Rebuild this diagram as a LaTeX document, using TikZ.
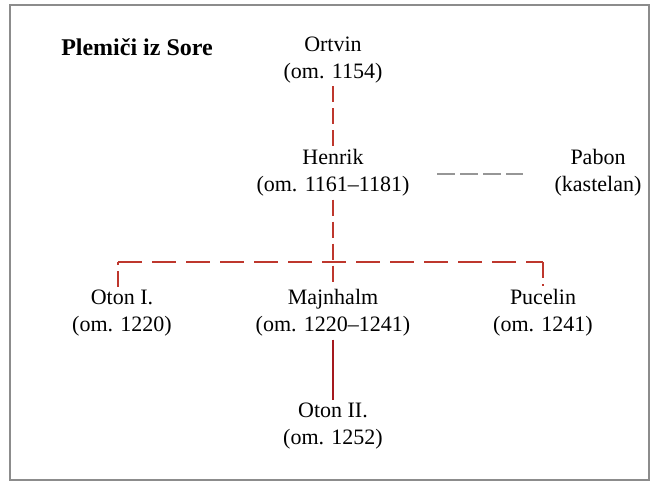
\documentclass[tikz,border=0pt]{standalone}
\usepackage{fontspec}
\setmainfont{Liberation Serif}
\usepackage{tikz}
\usetikzlibrary{positioning}
\definecolor{linered}{RGB}{190,55,45}
\definecolor{solidred}{RGB}{165,25,30}
\definecolor{linegray}{RGB}{150,150,150}
\definecolor{framegray}{RGB}{140,140,140}
\tikzset{person/.style={align=center, font=\fontsize{22}{27}\selectfont, inner sep=3pt},
         kin/.style={draw=linered, line width=2.8pt, dash pattern=on 16pt off 6pt},
         kinbar/.style={kin, dash pattern=on 24pt off 10pt},
         marr/.style={draw=linegray, line width=2.8pt, dash pattern=on 18pt off 5pt}}

\begin{document}
\begin{tikzpicture}[x=1pt, y=-1pt, node distance=113pt]
  \useasboundingbox (0,0) rectangle (650,481);
  \draw[framegray, line width=1.5pt] (10,5) rectangle (649,480);
  \node (title) at (137,47) [font=\fontsize{24}{27}\selectfont\bfseries] {Plemiči iz Sore};
  \node (ortvin) at (333,60) [person] {Ortvin\\(om. 1154)};
  \node (henrik) [person, below of=ortvin] {Henrik\\(om. 1161–1181)};
  \node (pabon) [person, right of=henrik, node distance=265pt] {Pabon\\(kastelan)};
  \node (majnhalm) [person, below of=henrik, node distance=140pt] {Majnhalm\\(om. 1220–1241)};
  \node (oton1) [person, left of=majnhalm, node distance=211pt] {Oton I.\\(om. 1220)};
  \node (pucelin) [person, right of=majnhalm, node distance=210pt] {Pucelin\\(om. 1241)};
  \node (oton2) [person, below of=majnhalm] {Oton II.\\(om. 1252)};
  \coordinate (barL) at (118,262);
  \coordinate (barR) at (543,262);
  % Ortvin -- Henrik
  \draw[kin] (ortvin.south) -- (henrik.north);
  % Henrik -- Pabon
  \draw[marr] (437,174) -- (523,174);
  % children
  \draw[kin] (henrik.south) -- (majnhalm.north);
  \draw[kin] (barL |- oton1.north) -- (barL);
  \draw[kin] (barR) -- (barR |- pucelin.north);
  \draw[kinbar] (barL) -- (barR);
  \draw[solidred, line width=2.8pt] (majnhalm.south) -- (oton2.north);
\end{tikzpicture}
\end{document}
